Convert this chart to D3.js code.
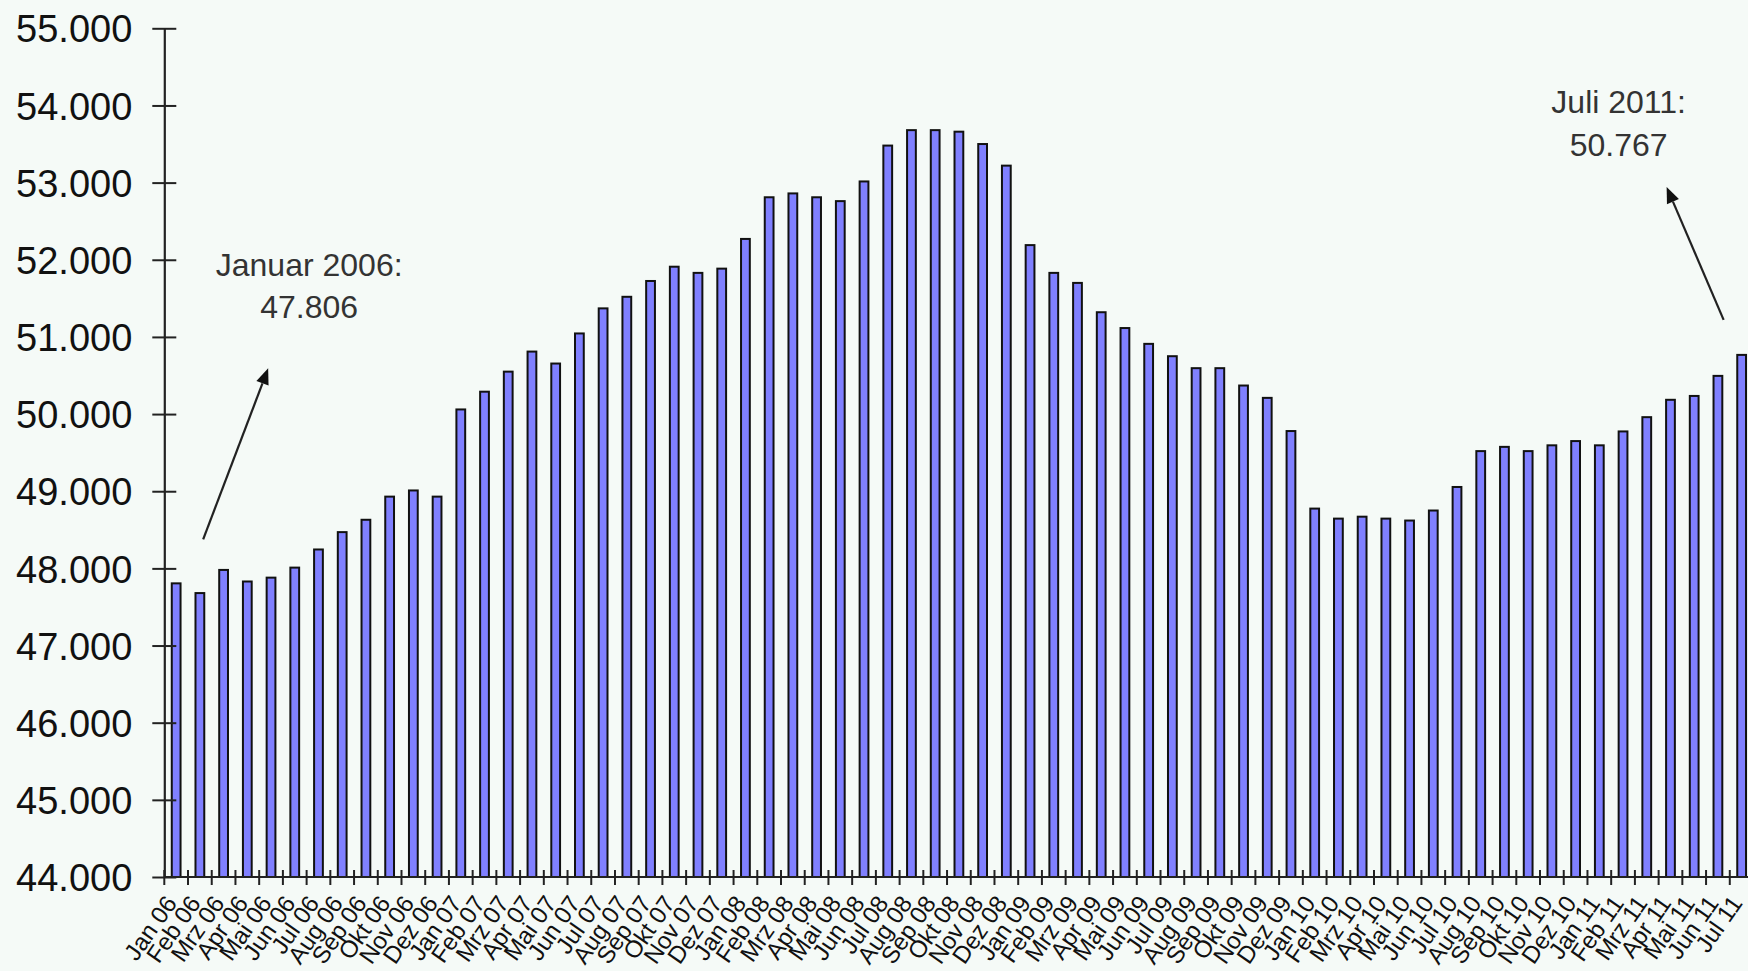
<!DOCTYPE html>
<html lang="de">
<head>
<meta charset="utf-8">
<title>Monatswerte Jan 2006 – Juli 2011</title>
<script src="https://cdn.jsdelivr.net/npm/d3@7"></script>
<style>
  html, body { margin: 0; padding: 0; background: #f5faf7; overflow: hidden; }
  svg { display: block; }
  text { font-family: "Liberation Sans", Arial, "DejaVu Sans", sans-serif; }
</style>
</head>
<body>
<svg id="chart"></svg>
<script>
// Monthly categories, January 2006 to July 2011
const categories = [
  "Jan 06","Feb 06","Mrz 06","Apr 06","Mai 06","Jun 06","Jul 06","Aug 06","Sep 06","Okt 06","Nov 06","Dez 06",
  "Jan 07","Feb 07","Mrz 07","Apr 07","Mai 07","Jun 07","Jul 07","Aug 07","Sep 07","Okt 07","Nov 07","Dez 07",
  "Jan 08","Feb 08","Mrz 08","Apr 08","Mai 08","Jun 08","Jul 08","Aug 08","Sep 08","Okt 08","Nov 08","Dez 08",
  "Jan 09","Feb 09","Mrz 09","Apr 09","Mai 09","Jun 09","Jul 09","Aug 09","Sep 09","Okt 09","Nov 09","Dez 09",
  "Jan 10","Feb 10","Mrz 10","Apr 10","Mai 10","Jun 10","Jul 10","Aug 10","Sep 10","Okt 10","Nov 10","Dez 10",
  "Jan 11","Feb 11","Mrz 11","Apr 11","Mai 11","Jun 11","Jul 11"
];

// Monthly values
const values = [
  47806, 47680, 47980, 47830, 47880, 48010, 48245, 48470, 48630, 48930, 49010, 48930,
  50060, 50290, 50550, 50810, 50655, 51045, 51370, 51520, 51725, 51910, 51830, 51885,
  52270, 52810, 52860, 52810, 52760, 53015, 53480, 53680, 53680, 53660, 53500, 53220,
  52190, 51830, 51700, 51320, 51115, 50910, 50750, 50595, 50595, 50370, 50210, 49780,
  48775, 48645, 48670, 48645, 48620, 48750, 49055, 49520, 49575, 49520, 49595, 49650,
  49595, 49775, 49960, 50185, 50235, 50495, 50767
];

// Value axis
const yDomain = [44000, 55000];
const yTicks = [44000, 45000, 46000, 47000, 48000, 49000, 50000, 51000, 52000, 53000, 54000, 55000];

// Callouts for the first and the latest month
const callouts = [
  { category: "Jan 06", title: "Januar 2006:" },
  { category: "Jul 11", title: "Juli 2011:" }
];

const W = 1748, H = 971;
const plotLeft = 164.3, plotTop = 28.3, plotBottom = 877;
const plotRight = 1753.5;

const de = d3.formatLocale({ decimal: ",", thousands: ".", grouping: [3], currency: ["", " €"] });
const fmt = de.format(",.0f");

const svg = d3.select("#chart").attr("width", W).attr("height", H);
svg.append("rect").attr("width", W).attr("height", H).attr("fill", "#f5faf7");

const x = d3.scaleBand()
  .domain(categories)
  .range([plotLeft, plotRight])
  .paddingInner(0.63)
  .paddingOuter(0.315);

const y = d3.scaleLinear().domain(yDomain).range([plotBottom, plotTop]);

// Bars
svg.append("g")
  .selectAll("rect")
  .data(values)
  .join("rect")
  .attr("x", (d, i) => x(categories[i]))
  .attr("y", d => y(d))
  .attr("width", x.bandwidth())
  .attr("height", d => y(yDomain[0]) - y(d))
  .attr("fill", "#8080ff")
  .attr("stroke", "#111")
  .attr("stroke-width", 2);

// Y axis with crossing tick marks
const yAxis = svg.append("g")
  .attr("transform", `translate(${plotLeft},0)`)
  .call(d3.axisLeft(y).tickValues(yTicks).tickFormat(fmt).tickSizeOuter(0).tickSizeInner(12).tickPadding(20));
yAxis.select(".domain").attr("stroke", "#222").attr("stroke-width", 2.2);
yAxis.selectAll(".tick line").attr("x1", 12).attr("stroke", "#222").attr("stroke-width", 2);
yAxis.selectAll(".tick text")
  .attr("font-size", 38)
  .attr("fill", "#111")
  .attr("dy", "0.36em");

// X axis line, category boundary ticks and rotated labels
const xAxis = svg.append("g");
xAxis.append("line")
  .attr("x1", plotLeft).attr("x2", plotRight)
  .attr("y1", plotBottom).attr("y2", plotBottom)
  .attr("stroke", "#222").attr("stroke-width", 2.2);
xAxis.selectAll("line.tick")
  .data(d3.range(categories.length + 1))
  .join("line")
  .attr("class", "tick")
  .attr("x1", i => plotLeft + i * x.step())
  .attr("x2", i => plotLeft + i * x.step())
  .attr("y1", plotBottom - 7).attr("y2", plotBottom + 8)
  .attr("stroke", "#222").attr("stroke-width", 2);
xAxis.selectAll("text")
  .data(categories)
  .join("text")
  .attr("transform", d => `translate(${x(d) + x.bandwidth() / 2 - 13},${plotBottom + 16}) rotate(-55)`)
  .attr("text-anchor", "end")
  .attr("dy", "0.75em")
  .attr("font-size", 24)
  .attr("fill", "#111")
  .text(d => d);

// Callouts: label with value and arrow pointing away from the bar
function arrow(g, x1, y1, x2, y2) {
  const a = Math.atan2(y2 - y1, x2 - x1), len = 16, half = 6.5;
  const bx = x2 - len * Math.cos(a), by = y2 - len * Math.sin(a);
  g.append("line").attr("x1", x1).attr("y1", y1).attr("x2", bx).attr("y2", by)
    .attr("stroke", "#222").attr("stroke-width", 2.2);
  g.append("polygon")
    .attr("points", [
      [x2, y2],
      [bx + half * Math.sin(a), by - half * Math.cos(a)],
      [bx - half * Math.sin(a), by + half * Math.cos(a)]
    ].map(p => p.join(",")).join(" "))
    .attr("fill", "#111");
}

const layout = {
  "Jan 06": { tail: [27, -44], tip: [92, -215], text: [133, -307], gap: 42 },
  "Jul 11": { tail: [-18, -35], tip: [-75, -168], text: [-123, -242], gap: 43 }
};

const cg = svg.append("g");
callouts.forEach(c => {
  const i = categories.indexOf(c.category);
  const v = values[i];
  const cx = x(c.category) + x.bandwidth() / 2, cy = y(v);
  const L = layout[c.category];
  arrow(cg, cx + L.tail[0], cy + L.tail[1], cx + L.tip[0], cy + L.tip[1]);
  const t = cg.append("text")
    .attr("x", cx + L.text[0]).attr("y", cy + L.text[1])
    .attr("text-anchor", "middle")
    .attr("font-size", 32)
    .attr("fill", "#333");
  t.append("tspan").attr("x", cx + L.text[0]).text(c.title);
  t.append("tspan").attr("x", cx + L.text[0]).attr("dy", L.gap).text(fmt(v));
});
</script>
</body>
</html>
